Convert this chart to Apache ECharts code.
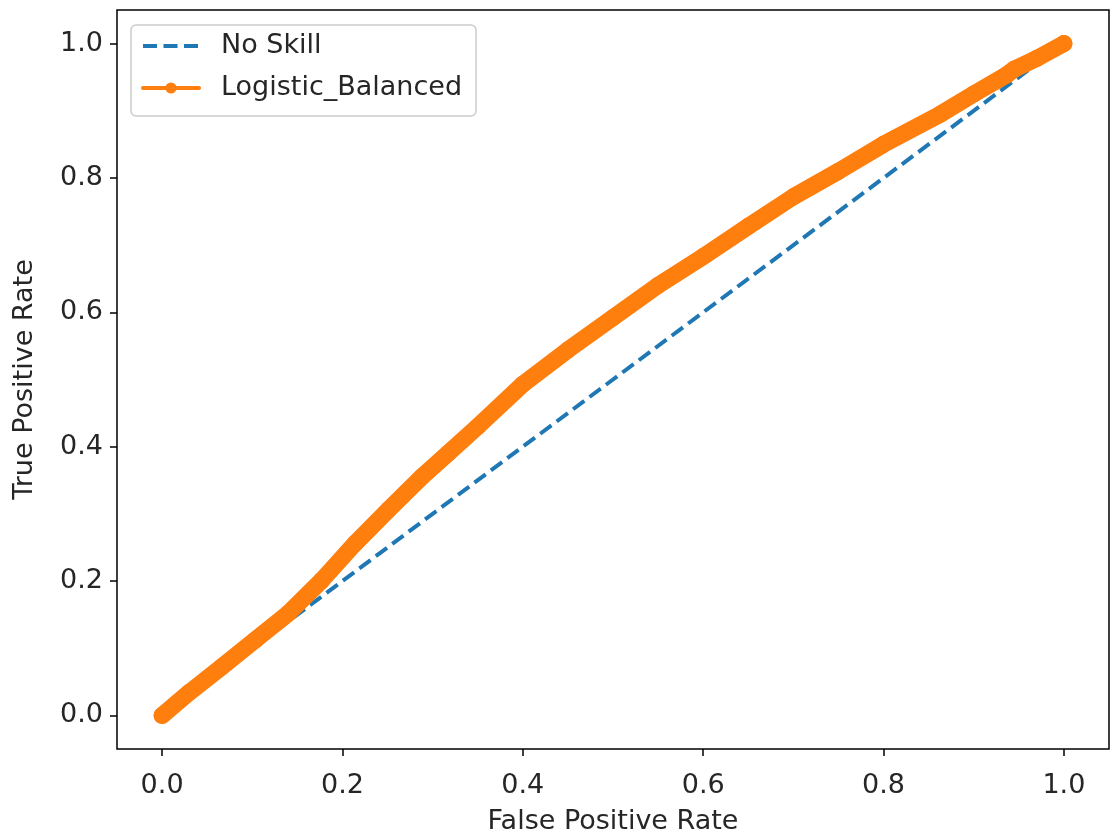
<!DOCTYPE html>
<html><head><meta charset="utf-8">
<script src="https://cdn.jsdelivr.net/npm/echarts@6/dist/echarts.min.js"></script>
<style>html,body{margin:0;padding:0;background:#fff}#c{width:1112px;height:832px}</style>
</head><body><div id="c"></div>
<script>
const tickValues = [0, 0.2, 0.4, 0.6, 0.8, 1.0];
const tickLabels = ['0.0', '0.2', '0.4', '0.6', '0.8', '1.0'];
const seriesNames = ['No Skill', 'Logistic_Balanced'];
const noSkillX = [0, 1];
const noSkillY = [0, 1];
const logisticX = [0, 0.03, 0.066, 0.103, 0.14, 0.177, 0.214, 0.251, 0.288, 0.317, 0.35, 0.4, 0.45, 0.5, 0.55, 0.6, 0.65, 0.7, 0.75, 0.8, 0.863, 0.9, 0.936, 0.945, 0.97, 1.0];
const logisticY = [0, 0.034, 0.072, 0.112, 0.152, 0.201, 0.256, 0.306, 0.355, 0.39, 0.43, 0.493, 0.544, 0.592, 0.64, 0.683, 0.728, 0.772, 0.81, 0.85, 0.895, 0.925, 0.953, 0.962, 0.978, 1.0];

const FONT = 'DejaVu Sans';
const TXT = '#262626';
const pair = (xs, ys) => xs.map((x, i) => [x, ys[i]]);
const fmt = v => { const i = tickValues.findIndex(t => Math.abs(t - v) < 1e-9); return i >= 0 ? tickLabels[i] : ''; };

const chart = echarts.init(document.getElementById('c'), null, {renderer: 'canvas'});
chart.setOption({
  animation: false,
  backgroundColor: '#fff',
  textStyle: {fontFamily: FONT},
  grid: {left: 117, right: 3, top: 10, bottom: 83, show: true, borderColor: '#000', borderWidth: 1.5, backgroundColor: 'transparent', containLabel: false, outerBoundsMode: 'none'},
  legend: {
    orient: 'vertical', left: 131, top: 25,
    padding: [6, 14, 13, 10],
    itemWidth: 56, itemHeight: 14, itemGap: 12,
    backgroundColor: 'rgba(255,255,255,0.8)', borderColor: '#cccccc', borderWidth: 1.5, borderRadius: 5,
    textStyle: {fontFamily: FONT, fontSize: 27, color: TXT, lineHeight: 30, padding: [0, 0, 0, 17]},
    data: [
      {name: seriesNames[0], lineStyle: {width: 4, type: [14, 6.5], color: '#1f77b4'}, itemStyle: {opacity: 0}},
      {name: seriesNames[1], lineStyle: {width: 4, color: '#ff7f0e'}, itemStyle: {color: '#ff7f0e'}}
    ]
  },
  xAxis: {
    type: 'value', min: -0.05, max: 1.05,
    name: 'False Positive Rate', nameLocation: 'middle', nameGap: 59,
    nameTextStyle: {fontFamily: FONT, fontSize: 27, color: TXT},
    axisLine: {show: false, onZero: false},
    splitLine: {show: false},
    axisTick: {show: true, length: 7, lineStyle: {color: '#000', width: 1.5}, customValues: tickValues},
    axisLabel: {fontFamily: FONT, fontSize: 27, color: TXT, margin: 23, customValues: tickValues, formatter: fmt}
  },
  yAxis: {
    type: 'value', min: -0.05, max: 1.05,
    name: 'True Positive Rate', nameLocation: 'middle', nameGap: 79,
    nameTextStyle: {fontFamily: FONT, fontSize: 27, color: TXT},
    axisLine: {show: false, onZero: false},
    splitLine: {show: false},
    axisTick: {show: true, length: 7, lineStyle: {color: '#000', width: 1.5}, customValues: tickValues},
    axisLabel: {fontFamily: FONT, fontSize: 27, color: TXT, margin: 14, customValues: tickValues, formatter: fmt}
  },
  series: [
    {
      name: seriesNames[0], type: 'line', data: pair(noSkillX, noSkillY),
      symbol: 'none', z: 2,
      lineStyle: {color: '#1f77b4', width: 4, type: [14, 6.5]},
      itemStyle: {color: '#1f77b4'}
    },
    {
      name: seriesNames[1], type: 'line', data: pair(logisticX, logisticY),
      symbol: 'circle', symbolSize: 17, showSymbol: true, z: 3,
      lineStyle: {color: '#ff7f0e', width: 17, cap: 'round', join: 'round'},
      itemStyle: {color: '#ff7f0e'}
    }
  ]
});
</script></body></html>
